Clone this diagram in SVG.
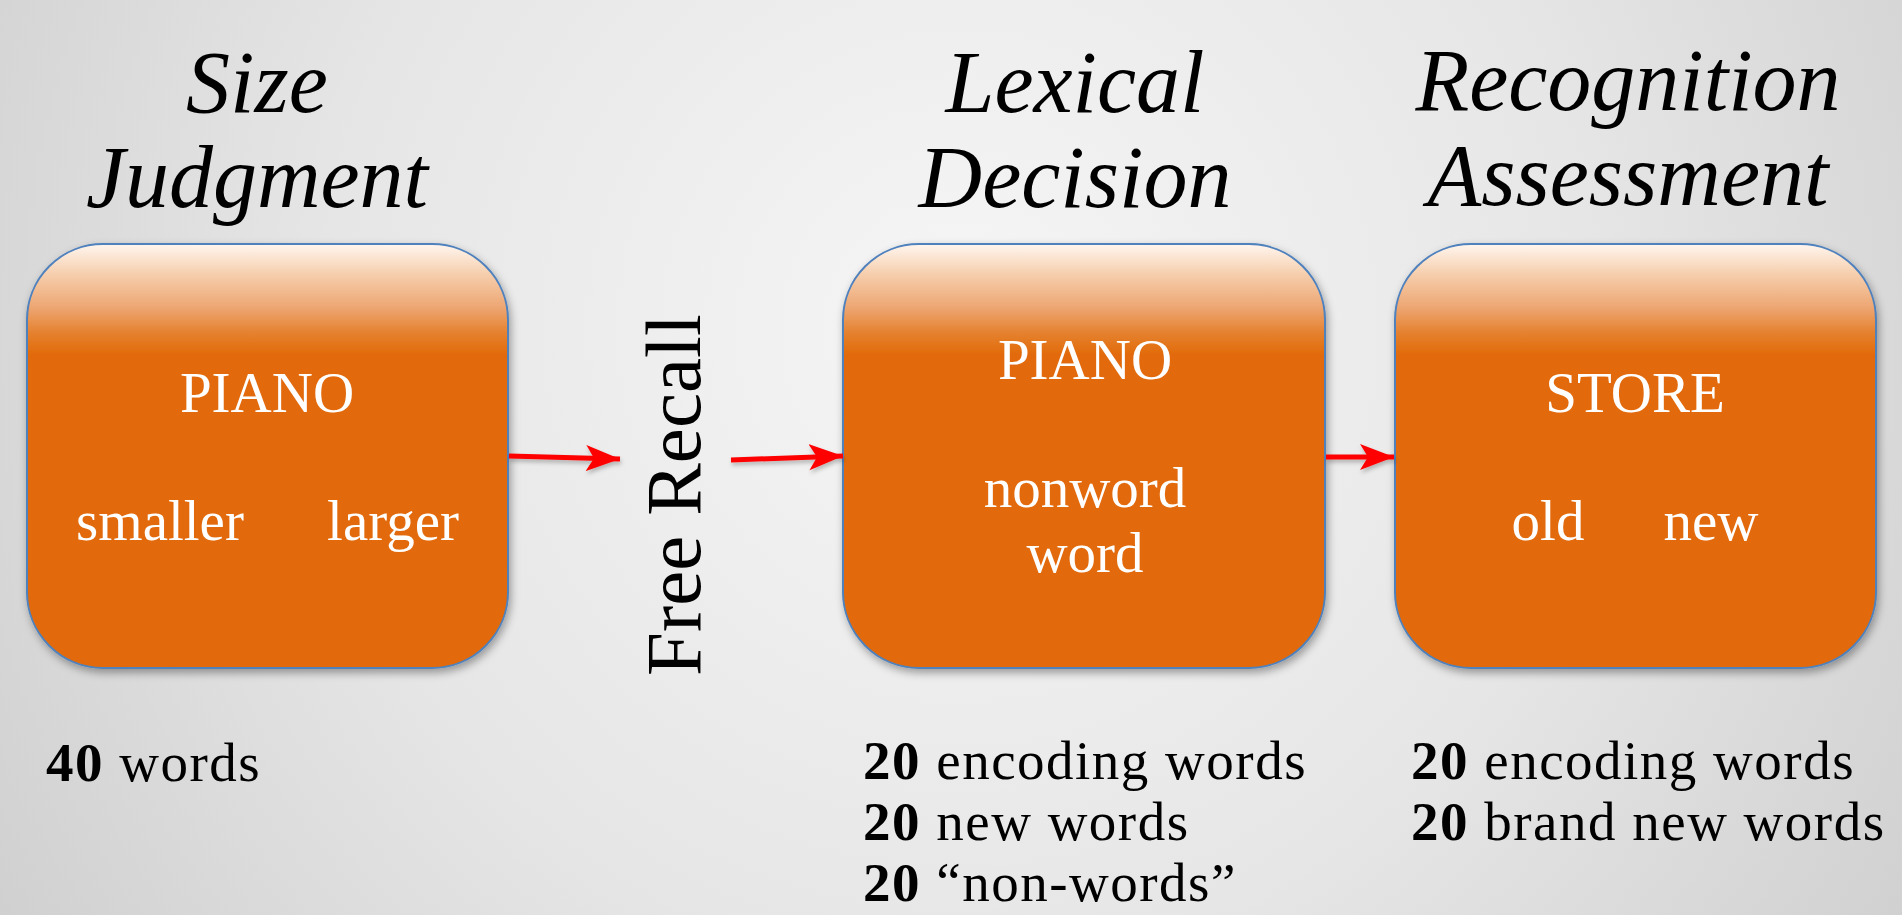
<svg xmlns="http://www.w3.org/2000/svg" width="1902" height="915" viewBox="0 0 1902 915">
  <defs>
    <radialGradient id="bg" cx="960" cy="330" r="1150" gradientUnits="userSpaceOnUse">
      <stop offset="0" stop-color="#F6F6F6"/>
      <stop offset="0.55" stop-color="#E6E6E6"/>
      <stop offset="1" stop-color="#CFCFCF"/>
    </radialGradient>
    <linearGradient id="boxfill" x1="0" y1="0" x2="0" y2="1">
      <stop offset="0" stop-color="#FFF6EF"/>
      <stop offset="0.07" stop-color="#F6CFAE"/>
      <stop offset="0.15" stop-color="#EDA672"/>
      <stop offset="0.21" stop-color="#E5812F"/>
      <stop offset="0.26" stop-color="#E26B0A"/>
      <stop offset="1" stop-color="#E26B0A"/>
    </linearGradient>
    <filter id="shadow" x="-10%" y="-10%" width="120%" height="125%">
      <feDropShadow dx="2" dy="4" stdDeviation="4" flood-color="#000" flood-opacity="0.35"/>
    </filter>
    <filter id="ashadow" filterUnits="userSpaceOnUse" x="0" y="0" width="1902" height="915">
      <feDropShadow dx="1" dy="3" stdDeviation="2" flood-color="#000" flood-opacity="0.25"/>
    </filter>
    <marker id="arrow" markerUnits="userSpaceOnUse" markerWidth="40" markerHeight="30" refX="34" refY="13" orient="auto">
      <path d="M0,0 L34,13 L0,26 L8,13 Z" fill="#FF0000"/>
    </marker>
  </defs>
  <style>
    .box { fill: url(#boxfill); stroke: #4F81BD; stroke-width: 2; filter: url(#shadow); }
    .title { font-family: "Liberation Serif", "Times New Roman", serif; font-style: italic; font-size: 88px; fill: #000; text-anchor: middle; }
    .inner { font-family: "Liberation Serif", "Times New Roman", serif; font-size: 57px; fill: #FFFFFF; text-anchor: middle; }
    .note { font-family: "Liberation Serif", "Times New Roman", serif; font-size: 55px; letter-spacing: 1.5px; fill: #000; }
    .note tspan.b { font-weight: bold; }
    .vert { font-family: "Liberation Serif", "Times New Roman", serif; font-size: 79px; fill: #000; text-anchor: middle; }
    .conn { stroke: #FF0000; stroke-width: 5; fill: none; marker-end: url(#arrow); }
  </style>

  <rect x="0" y="0" width="1902" height="915" fill="url(#bg)"/>

  <g id="title-size">
    <text class="title" x="257" y="112">Size</text>
    <text class="title" x="257" y="207">Judgment</text>
  </g>
  <g id="title-lexical">
    <text class="title" x="1075" y="112">Lexical</text>
    <text class="title" x="1075" y="207">Decision</text>
  </g>
  <g id="title-recognition">
    <text class="title" x="1628" y="110">Recognition</text>
    <text class="title" x="1628" y="205">Assessment</text>
  </g>

  <g id="node-size-judgment">
    <rect class="box" x="27" y="244" width="481" height="424" rx="76" ry="76"/>
    <text class="inner" x="267" y="412">PIANO</text>
    <text class="inner" x="160" y="540">smaller</text>
    <text class="inner" x="393" y="540">larger</text>
  </g>

  <g id="node-free-recall">
    <text class="vert" transform="translate(700,495) rotate(-90)">Free Recall</text>
  </g>

  <g id="node-lexical-decision">
    <rect class="box" x="843" y="244" width="482" height="424" rx="76" ry="76"/>
    <text class="inner" x="1085" y="379">PIANO</text>
    <text class="inner" x="1085" y="507">nonword</text>
    <text class="inner" x="1085" y="572">word</text>
  </g>

  <g id="node-recognition">
    <rect class="box" x="1395" y="244" width="481" height="424" rx="76" ry="76"/>
    <text class="inner" x="1635" y="412">STORE</text>
    <text class="inner" x="1548" y="540">old</text>
    <text class="inner" x="1711" y="540">new</text>
  </g>

  <g id="connectors" filter="url(#ashadow)">
    <path class="conn" d="M509,456 L620,459"/>
    <path class="conn" d="M731,460 L843,456"/>
    <path class="conn" d="M1326,457 L1394,457"/>
  </g>

  <g id="notes">
    <text class="note" x="46" y="781"><tspan class="b">40</tspan> words</text>
    <text class="note" x="863" y="779"><tspan class="b">20</tspan> encoding words</text>
    <text class="note" x="863" y="840"><tspan class="b">20</tspan> new words</text>
    <text class="note" x="863" y="901"><tspan class="b">20</tspan> “non-words”</text>
    <text class="note" x="1411" y="779"><tspan class="b">20</tspan> encoding words</text>
    <text class="note" x="1411" y="840"><tspan class="b">20</tspan> brand new words</text>
  </g>
</svg>
